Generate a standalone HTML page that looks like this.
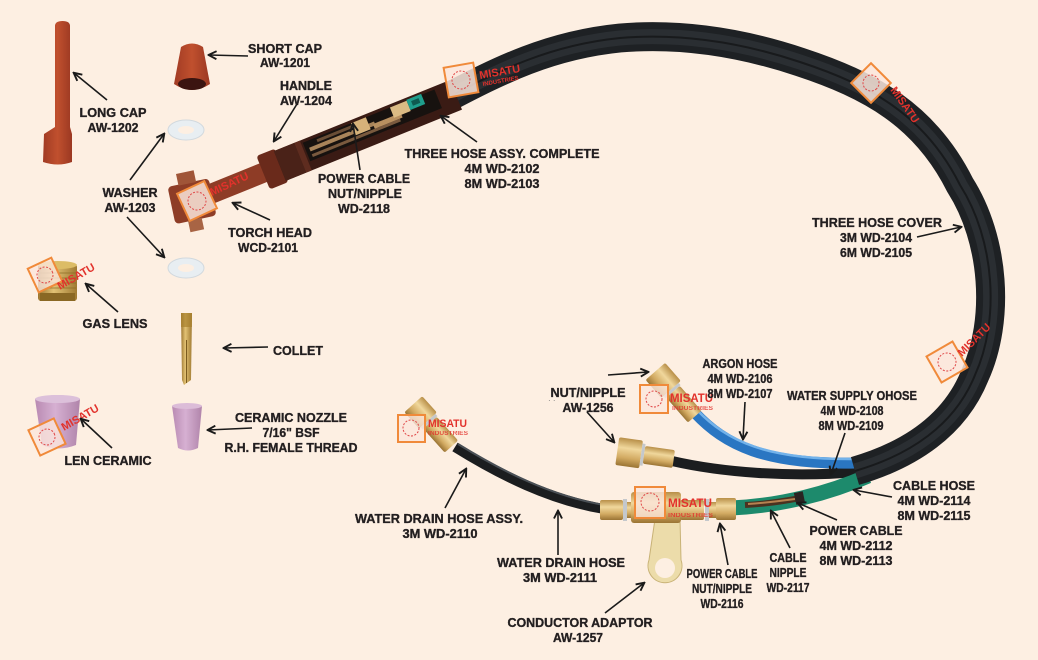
<!DOCTYPE html>
<html><head><meta charset="utf-8"><style>
html,body{margin:0;padding:0;background:#fdefe2;}
svg{display:block;}
.t{font-family:"Liberation Sans",Arial,sans-serif;font-weight:bold;font-size:13px;fill:#231f20;stroke:#231f20;stroke-width:0.35;text-anchor:middle;}
.m{font-family:"Liberation Sans",Arial,sans-serif;font-weight:bold;fill:#e2322c;}
.a{stroke:#1a1a1a;stroke-width:1.6;fill:none;marker-end:url(#ah);}
</style></head><body>
<svg width="1038" height="660" viewBox="0 0 1038 660" xmlns="http://www.w3.org/2000/svg">
<defs>
<marker id="ah" viewBox="0 0 10 10" refX="8.5" refY="5" markerWidth="10" markerHeight="10" markerUnits="userSpaceOnUse" orient="auto">
<path d="M1,1 L9,5 L1,9" fill="none" stroke="#1a1a1a" stroke-width="1.9"/>
</marker>
<linearGradient id="brass" x1="0" y1="0" x2="0" y2="1">
<stop offset="0" stop-color="#b88f48"/><stop offset=".35" stop-color="#f0d79c"/><stop offset=".7" stop-color="#d2aa62"/><stop offset="1" stop-color="#9a7434"/>
</linearGradient>
<linearGradient id="gl" x1="0" y1="0" x2="1" y2="0">
<stop offset="0" stop-color="#9c7630"/><stop offset=".4" stop-color="#e2c274"/><stop offset="1" stop-color="#a07a32"/>
</linearGradient>
<linearGradient id="pink" x1="0" y1="0" x2="1" y2="0">
<stop offset="0" stop-color="#b98ab2"/><stop offset=".45" stop-color="#d6b0d2"/><stop offset="1" stop-color="#b084aa"/>
</linearGradient>
<linearGradient id="red" x1="0" y1="0" x2="1" y2="0">
<stop offset="0" stop-color="#a13b24"/><stop offset=".5" stop-color="#c0502e"/><stop offset="1" stop-color="#9b3822"/>
</linearGradient>
</defs>
<rect width="1038" height="660" fill="#fdefe2"/>

<!-- LEFT PARTS -->
<path d="M55,26 Q55,21 62.5,21 Q70,21 70,26 L70,127 L72,134 L72,162 Q58,167 43,162 L44,134 L55,127 Z" fill="url(#red)"/>
<path d="M181,47 Q192,40 203,47 L210,84 Q192,96 174,84 Z" fill="url(#red)"/>
<ellipse cx="192" cy="84" rx="14" ry="6" fill="#3b1410"/>
<ellipse cx="186" cy="130" rx="18" ry="10" fill="#e8eef2" stroke="#d2d9de"/>
<ellipse cx="186" cy="130" rx="8" ry="4" fill="#fdefe2"/>
<ellipse cx="186" cy="268" rx="18" ry="10" fill="#e8eef2" stroke="#d2d9de"/>
<ellipse cx="186" cy="268" rx="8" ry="4" fill="#fdefe2"/>
<rect x="38" y="264" width="39" height="37" rx="3" fill="url(#gl)"/>
<ellipse cx="57.5" cy="265" rx="19.5" ry="4" fill="#dcbc66"/>
<g stroke="#8a6a22" stroke-width="1" opacity=".7">
<line x1="39" y1="273" x2="76" y2="273"/><line x1="39" y1="278" x2="76" y2="278"/><line x1="39" y1="283" x2="76" y2="283"/><line x1="39" y1="288" x2="76" y2="288"/>
</g>
<rect x="40" y="293" width="35" height="8" fill="#8a6824"/>
<path d="M181,313 L192,313 L191,380 L184,385 L182,380 Z" fill="url(#gl)"/>
<rect x="181" y="313" width="11" height="14" fill="#a8802e" opacity=".7"/>
<line x1="186.5" y1="340" x2="186.5" y2="383" stroke="#7a5a1e" stroke-width="1"/>
<path d="M172,406 Q187,401 202,406 L198,448 Q188,453 178,448 Z" fill="url(#pink)"/>
<ellipse cx="187" cy="406" rx="15" ry="3" fill="#dcbcd8"/>
<path d="M35,399 Q57,391 80,399 L76,445 Q58,452 42,445 Z" fill="url(#pink)"/>
<ellipse cx="57.5" cy="399" rx="22.5" ry="4" fill="#dcc0da"/>

<!-- SUB HOSES -->
<path d="M455,447 C500,475 550,500 604,509" stroke="#1b1d1f" stroke-width="10" fill="none"/>
<path d="M458,444 C502,471 551,496 604,505" stroke="#4a5056" stroke-width="2" fill="none"/>
<path d="M672,461 C720,472 790,478 856,472" stroke="#1b1d1f" stroke-width="10" fill="none"/>
<path d="M695,413 C725,445 765,465 856,463" stroke="#2a76c2" stroke-width="11" fill="none"/>
<path d="M697,410 C727,441 766,460 856,459" stroke="#72b2ea" stroke-width="2.5" fill="none"/>
<path d="M731,508 C780,506 830,493 868,476" stroke="#1d8a6c" stroke-width="15" fill="none"/>
<path d="M745,505 C765,504 785,501 800,498" stroke="#4a3220" stroke-width="6" fill="none"/>
<path d="M748,504 C765,503 780,501 795,499" stroke="#b58250" stroke-width="2" fill="none"/>
<rect x="795" y="492" width="9" height="12" fill="#2a2422" transform="rotate(-12 800 498)"/>

<!-- MAIN HOSE -->
<path d="M445,99 C500,70 550,45 620,38 C680,33 740,42 800,62 C870,85 925,115 960,185 C995,240 1000,320 975,375 C955,425 910,455 855,471" stroke="#1e2124" stroke-width="29" fill="none"/>
<path d="M445,99 C500,70 550,45 620,38 C680,33 740,42 800,62 C870,85 925,115 960,185 C995,240 1000,320 975,375 C955,425 910,455 855,471" stroke="#2d3236" stroke-width="15" fill="none" opacity=".8"/>
<path d="M445,99 C500,70 550,45 620,38 C680,33 740,42 800,62 C870,85 925,115 960,185 C995,240 1000,320 975,375 C955,425 910,455 855,471" stroke="#181a1c" stroke-width="2" fill="none"/>

<!-- HANDLE -->
<g transform="translate(265,172) rotate(-22)">
<rect x="-72" y="-10" width="76" height="20" fill="#8e3c26"/>
<rect x="-2" y="-18" width="20" height="36" rx="3" fill="#6a2a1b"/>
<rect x="16" y="-16" width="190" height="32" fill="#3a1b14"/>
<rect x="16" y="-16" width="22" height="32" fill="#4a2218"/>
<rect x="38" y="-16" width="6" height="32" fill="#5e2c1f"/>
<rect x="46" y="-13" width="142" height="20" fill="#17120f"/>
<rect x="50" y="-6" width="70" height="4" fill="#a8845a"/>
<rect x="50" y="1" width="95" height="3" fill="#7a5a3e"/>
<rect x="60" y="-11" width="50" height="3" fill="#6a4e36"/>
<rect x="98" y="-13" width="16" height="13" fill="#d6b27a"/>
<rect x="118" y="-4" width="30" height="5" fill="#b89060"/>
<rect x="140" y="-13" width="18" height="11" fill="#dbbb84"/>
<rect x="158" y="-14" width="16" height="11" fill="#1f9e8c"/>
<rect x="162" y="-11" width="8" height="5" fill="#0e5a50"/>
</g>
<g transform="translate(193,201) rotate(-12)">
<rect x="-22" y="-19" width="42" height="38" rx="4" fill="#8e3d27"/>
<rect x="-11" y="-30" width="18" height="12" fill="#a05538"/>
<rect x="-9" y="18" width="14" height="12" fill="#a86444"/>
</g>

<!-- FITTINGS -->
<g transform="translate(432,425) rotate(48)">
<rect x="-28" y="-12" width="22" height="24" rx="2" fill="url(#brass)"/>
<rect x="-6" y="-10" width="3" height="20" fill="#c4c8cc"/>
<rect x="-3" y="-9" width="32" height="18" rx="2" fill="url(#brass)"/>
</g>
<g transform="translate(675,394) rotate(49)">
<rect x="-30" y="-13" width="24" height="26" rx="2" fill="url(#brass)"/>
<rect x="-6" y="-10" width="3" height="20" fill="#c4c8cc"/>
<rect x="-3" y="-9" width="33" height="18" rx="2" fill="url(#brass)"/>
</g>
<g transform="translate(645,455) rotate(8)">
<rect x="-28" y="-14" width="24" height="28" rx="2" fill="url(#brass)"/>
<rect x="-4" y="-11" width="3" height="22" fill="#c4c8cc"/>
<rect x="-1" y="-9" width="30" height="18" rx="2" fill="url(#brass)"/>
</g>
<path d="M655,519 L680,519 L681,560 A17,17 0 1 1 649,560 Z" fill="#ecdcaa" stroke="#c8b276" stroke-width="1"/>
<circle cx="665" cy="568" r="10" fill="#fdefe2"/>
<rect x="600" y="500" width="23" height="20" rx="2" fill="url(#brass)"/>
<rect x="623" y="499" width="4" height="22" fill="#c4c8cc"/>
<rect x="627" y="502" width="5" height="16" fill="url(#brass)"/>
<rect x="631" y="492" width="50" height="31" rx="3" fill="url(#brass)"/>
<rect x="680" y="500" width="24" height="20" rx="2" fill="url(#brass)"/>
<rect x="705" y="499" width="4" height="22" fill="#c4c8cc"/>
<rect x="709" y="502" width="8" height="16" fill="url(#brass)"/>
<rect x="716" y="498" width="20" height="22" rx="2" fill="url(#brass)"/>

<!-- WATERMARKS -->
<g transform="translate(45,275) rotate(-25)"><rect x="-13" y="-13" width="26" height="26" fill="#fbe6dc" fill-opacity=".8" stroke="#f08a3a" stroke-width="2"/><circle r="8" fill="none" stroke="#e04848" stroke-width="1" stroke-dasharray="2 1.5"/></g>
<text class="m" font-size="11" transform="translate(60,290) rotate(-30)">MISATU</text>
<g transform="translate(47,437) rotate(-25)"><rect x="-14" y="-14" width="28" height="28" fill="#fbe6dc" fill-opacity=".8" stroke="#f08a3a" stroke-width="2"/><circle r="8" fill="none" stroke="#e04848" stroke-width="1" stroke-dasharray="2 1.5"/></g>
<text class="m" font-size="11" transform="translate(64,431) rotate(-30)">MISATU</text>
<g transform="translate(197,201) rotate(-25)"><rect x="-15" y="-15" width="30" height="30" fill="#fbe6dc" fill-opacity=".85" stroke="#f08a3a" stroke-width="2"/><circle r="9" fill="none" stroke="#e04848" stroke-width="1" stroke-dasharray="2 1.5"/></g>
<text class="m" font-size="11" transform="translate(212,196) rotate(-25)">MISATU</text>
<g transform="translate(461,80) rotate(-10)"><rect x="-15" y="-15" width="30" height="30" fill="#fbe6dc" fill-opacity=".85" stroke="#f08a3a" stroke-width="2"/><circle r="9" fill="none" stroke="#e04848" stroke-width="1" stroke-dasharray="2 1.5"/></g>
<text class="m" font-size="11" transform="translate(480,79) rotate(-10)">MISATU</text>
<text class="m" font-size="6" transform="translate(483,86) rotate(-10)">INDUSTRIES</text>
<g transform="translate(871,83) rotate(45)"><rect x="-14" y="-14" width="28" height="28" fill="#fbe6dc" fill-opacity=".85" stroke="#f08a3a" stroke-width="2"/><circle r="8" fill="none" stroke="#e04848" stroke-width="1" stroke-dasharray="2 1.5"/></g>
<text class="m" font-size="11" transform="translate(890,90) rotate(55)">MISATU</text>
<g transform="translate(947,362) rotate(-30)"><rect x="-15" y="-15" width="30" height="30" fill="#fbe6dc" fill-opacity=".85" stroke="#f08a3a" stroke-width="2"/><circle r="9" fill="none" stroke="#e04848" stroke-width="1" stroke-dasharray="2 1.5"/></g>
<text class="m" font-size="11" transform="translate(962,357) rotate(-45)">MISATU</text>
<g transform="translate(654,399)"><rect x="-14" y="-14" width="28" height="28" fill="#fbe6dc" fill-opacity=".8" stroke="#f08a3a" stroke-width="2"/><circle r="8" fill="none" stroke="#e04848" stroke-width="1" stroke-dasharray="2 1.5"/></g>
<text class="m" font-size="12" x="670" y="402" textLength="43" lengthAdjust="spacingAndGlyphs">MISATU</text>
<text class="m" font-size="6" x="672" y="410" textLength="41" lengthAdjust="spacingAndGlyphs" opacity=".8">INDUSTRIES</text>
<g transform="translate(411,428)"><rect x="-13" y="-13" width="27" height="27" fill="#fbe6dc" fill-opacity=".8" stroke="#f08a3a" stroke-width="2"/><circle r="8" fill="none" stroke="#e04848" stroke-width="1" stroke-dasharray="2 1.5"/></g>
<text class="m" font-size="11" x="428" y="427" textLength="39" lengthAdjust="spacingAndGlyphs">MISATU</text>
<text class="m" font-size="6" x="428" y="435" textLength="40" lengthAdjust="spacingAndGlyphs" opacity=".8">INDUSTRIES</text>
<g transform="translate(650,502)"><rect x="-15" y="-15" width="30" height="31" fill="#fbe6dc" fill-opacity=".8" stroke="#f08a3a" stroke-width="2"/><circle r="9" fill="none" stroke="#e04848" stroke-width="1" stroke-dasharray="2 1.5"/></g>
<text class="m" font-size="12" x="668" y="507" textLength="44" lengthAdjust="spacingAndGlyphs">MISATU</text>
<text class="m" font-size="6" x="668" y="517" textLength="45" lengthAdjust="spacingAndGlyphs" opacity=".8">INDUSTRIES</text>

<!-- ARROWS -->
<line class="a" x1="248" y1="56" x2="209" y2="55"/>
<line class="a" x1="297" y1="104" x2="274" y2="141"/>
<line class="a" x1="107" y1="100" x2="74" y2="73"/>
<line class="a" x1="130" y1="180" x2="164" y2="134"/>
<line class="a" x1="127" y1="217" x2="164" y2="257"/>
<line class="a" x1="270" y1="220" x2="233" y2="203"/>
<line class="a" x1="360" y1="170" x2="353" y2="124"/>
<line class="a" x1="477" y1="142" x2="441" y2="116"/>
<line class="a" x1="917" y1="237" x2="961" y2="227"/>
<line class="a" x1="118" y1="312" x2="86" y2="284"/>
<line class="a" x1="268" y1="347" x2="224" y2="348"/>
<line class="a" x1="252" y1="428" x2="208" y2="430"/>
<line class="a" x1="112" y1="448" x2="81" y2="419"/>
<line class="a" x1="745" y1="402" x2="743" y2="439"/>
<line class="a" x1="608" y1="375" x2="648" y2="372"/>
<line class="a" x1="587" y1="412" x2="614" y2="442"/>
<line class="a" x1="845" y1="433" x2="831" y2="474"/>
<line class="a" x1="892" y1="497" x2="854" y2="490"/>
<line class="a" x1="837" y1="520" x2="798" y2="503"/>
<line class="a" x1="790" y1="548" x2="771" y2="511"/>
<line class="a" x1="728" y1="565" x2="720" y2="524"/>
<line class="a" x1="445" y1="508" x2="466" y2="469"/>
<line class="a" x1="558" y1="555" x2="558" y2="511"/>
<line class="a" x1="605" y1="613" x2="644" y2="583"/>

<!-- LABELS -->
<text class="t" x="285" y="53" textLength="74" lengthAdjust="spacingAndGlyphs">SHORT CAP</text>
<text class="t" x="285" y="67" textLength="50" lengthAdjust="spacingAndGlyphs">AW-1201</text>
<text class="t" x="306" y="90" textLength="52" lengthAdjust="spacingAndGlyphs">HANDLE</text>
<text class="t" x="306" y="105" textLength="52" lengthAdjust="spacingAndGlyphs">AW-1204</text>
<text class="t" x="113" y="117" textLength="67" lengthAdjust="spacingAndGlyphs">LONG CAP</text>
<text class="t" x="113" y="132" textLength="51" lengthAdjust="spacingAndGlyphs">AW-1202</text>
<text class="t" x="130" y="197" textLength="55" lengthAdjust="spacingAndGlyphs">WASHER</text>
<text class="t" x="130" y="212" textLength="51" lengthAdjust="spacingAndGlyphs">AW-1203</text>
<text class="t" x="270" y="237" textLength="84" lengthAdjust="spacingAndGlyphs">TORCH HEAD</text>
<text class="t" x="268" y="252" textLength="60" lengthAdjust="spacingAndGlyphs">WCD-2101</text>
<text class="t" x="364" y="183" textLength="92" lengthAdjust="spacingAndGlyphs">POWER CABLE</text>
<text class="t" x="365" y="198" textLength="74" lengthAdjust="spacingAndGlyphs">NUT/NIPPLE</text>
<text class="t" x="364" y="213" textLength="52" lengthAdjust="spacingAndGlyphs">WD-2118</text>
<text class="t" x="502" y="158" textLength="195" lengthAdjust="spacingAndGlyphs">THREE HOSE ASSY. COMPLETE</text>
<text class="t" x="502" y="173" textLength="75" lengthAdjust="spacingAndGlyphs">4M WD-2102</text>
<text class="t" x="502" y="188" textLength="75" lengthAdjust="spacingAndGlyphs">8M WD-2103</text>
<text class="t" x="877" y="227" textLength="130" lengthAdjust="spacingAndGlyphs">THREE HOSE COVER</text>
<text class="t" x="876" y="242" textLength="72" lengthAdjust="spacingAndGlyphs">3M WD-2104</text>
<text class="t" x="876" y="257" textLength="72" lengthAdjust="spacingAndGlyphs">6M WD-2105</text>
<text class="t" x="115" y="328" textLength="65" lengthAdjust="spacingAndGlyphs">GAS LENS</text>
<text class="t" x="298" y="355" textLength="50" lengthAdjust="spacingAndGlyphs">COLLET</text>
<text class="t" x="291" y="422" textLength="112" lengthAdjust="spacingAndGlyphs">CERAMIC NOZZLE</text>
<text class="t" x="291" y="437" textLength="57" lengthAdjust="spacingAndGlyphs">7/16" BSF</text>
<text class="t" x="291" y="452" textLength="133" lengthAdjust="spacingAndGlyphs">R.H. FEMALE THREAD</text>
<text class="t" x="108" y="465" textLength="87" lengthAdjust="spacingAndGlyphs">LEN CERAMIC</text>
<text class="t" x="740" y="368" textLength="75" lengthAdjust="spacingAndGlyphs">ARGON HOSE</text>
<text class="t" x="740" y="383" textLength="65" lengthAdjust="spacingAndGlyphs">4M WD-2106</text>
<text class="t" x="740" y="398" textLength="65" lengthAdjust="spacingAndGlyphs">8M WD-2107</text>
<text class="t" x="588" y="397" textLength="75" lengthAdjust="spacingAndGlyphs">NUT/NIPPLE</text>
<text class="t" x="588" y="412" textLength="51" lengthAdjust="spacingAndGlyphs">AW-1256</text>
<text x="548" y="403" font-family="Liberation Sans, sans-serif" font-size="8" fill="#777">· ·</text>
<text class="t" x="852" y="400" textLength="130" lengthAdjust="spacingAndGlyphs">WATER SUPPLY OHOSE</text>
<text class="t" x="852" y="415" textLength="63" lengthAdjust="spacingAndGlyphs">4M WD-2108</text>
<text class="t" x="851" y="430" textLength="65" lengthAdjust="spacingAndGlyphs">8M WD-2109</text>
<text class="t" x="934" y="490" textLength="82" lengthAdjust="spacingAndGlyphs">CABLE HOSE</text>
<text class="t" x="934" y="505" textLength="73" lengthAdjust="spacingAndGlyphs">4M WD-2114</text>
<text class="t" x="934" y="520" textLength="73" lengthAdjust="spacingAndGlyphs">8M WD-2115</text>
<text class="t" x="856" y="535" textLength="93" lengthAdjust="spacingAndGlyphs">POWER CABLE</text>
<text class="t" x="856" y="550" textLength="73" lengthAdjust="spacingAndGlyphs">4M WD-2112</text>
<text class="t" x="856" y="565" textLength="73" lengthAdjust="spacingAndGlyphs">8M WD-2113</text>
<text class="t" x="788" y="562" textLength="37" lengthAdjust="spacingAndGlyphs">CABLE</text>
<text class="t" x="788" y="577" textLength="37" lengthAdjust="spacingAndGlyphs">NIPPLE</text>
<text class="t" x="788" y="592" textLength="43" lengthAdjust="spacingAndGlyphs">WD-2117</text>
<text class="t" x="722" y="578" textLength="71" lengthAdjust="spacingAndGlyphs">POWER CABLE</text>
<text class="t" x="722" y="593" textLength="60" lengthAdjust="spacingAndGlyphs">NUT/NIPPLE</text>
<text class="t" x="722" y="608" textLength="43" lengthAdjust="spacingAndGlyphs">WD-2116</text>
<text class="t" x="439" y="523" textLength="168" lengthAdjust="spacingAndGlyphs">WATER DRAIN HOSE ASSY.</text>
<text class="t" x="440" y="538" textLength="75" lengthAdjust="spacingAndGlyphs">3M WD-2110</text>
<text class="t" x="561" y="567" textLength="128" lengthAdjust="spacingAndGlyphs">WATER DRAIN HOSE</text>
<text class="t" x="560" y="582" textLength="74" lengthAdjust="spacingAndGlyphs">3M WD-2111</text>
<text class="t" x="580" y="627" textLength="145" lengthAdjust="spacingAndGlyphs">CONDUCTOR ADAPTOR</text>
<text class="t" x="578" y="642" textLength="50" lengthAdjust="spacingAndGlyphs">AW-1257</text>
</svg>
</body></html>
